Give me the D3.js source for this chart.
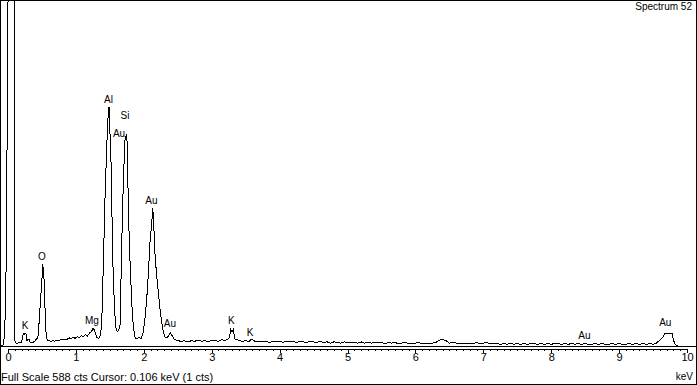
<!DOCTYPE html>
<html><head><meta charset="utf-8">
<script src="https://cdn.jsdelivr.net/npm/d3@7"></script>
<style>
html,body{margin:0;padding:0;background:#fff;}
svg{display:block;}
text{font-family:"Liberation Sans", Arial, sans-serif; fill:#000;}
</style></head><body>
<svg id="c" width="697" height="385"></svg>
<script>
// Spectrum data: energy (keV) and counts
const energy = [
-0.10,-0.085,-0.07,-0.055,-0.045,-0.035,-0.025,-0.015,-0.008,0.0,0.012,0.03,0.05,0.07,0.088,0.097,0.103,
0.12,0.14,0.16,0.18,0.20,0.215,0.23,0.25,0.265,0.28,0.295,0.31,0.325,0.34,0.36,0.38,0.40,0.42,0.44,
0.455,0.47,0.485,0.50,0.512,0.522,0.532,0.542,0.552,0.565,0.58,
0.60,0.63,0.66,0.69,0.72,0.75,0.78,0.81,0.84,0.87,0.90,0.93,0.96,0.99,1.02,1.05,1.08,1.11,1.14,1.17,1.20,1.23,1.25,1.27,1.29,1.31,1.34,1.36,
1.38,1.405,1.43,1.455,1.475,1.488,1.50,1.517,1.535,1.55,1.572,1.588,1.61,1.63,
1.65,1.675,1.70,1.725,1.74,1.75,1.762,1.773,1.797,1.822,1.847,1.872,1.90,1.93,1.96,
1.99,2.02,2.045,2.068,2.093,2.115,2.133,2.152,2.167,2.192,2.216,2.24,2.265,2.29,2.315,2.345,2.37,2.395,2.42,2.445,2.475,
2.50,2.55,2.60,2.65,2.70,2.75,2.80,2.85,2.90,2.95,3.00,3.05,3.10,3.15,3.20,3.24,3.26,3.28,3.30,3.32,3.34,3.37,3.40,3.45,3.50,3.55,3.58,3.61,
3.65,3.70,3.75,3.80,3.85,3.90,3.95,4.00,4.05,4.10,4.15,4.20,4.25,4.30,4.35,4.40,4.45,4.50,4.55,4.60,4.65,4.70,4.75,4.80,4.85,4.90,4.95,
5.00,5.05,5.10,5.15,5.20,5.25,5.30,5.35,5.40,5.45,5.50,5.55,5.60,5.65,5.70,5.75,5.80,5.85,5.90,5.95,
6.00,6.05,6.10,6.15,6.20,6.25,6.30,6.35,6.40,6.45,6.50,6.55,6.60,6.65,6.70,6.75,6.80,6.85,6.90,6.95,
7.00,7.05,7.10,7.15,7.20,7.25,7.30,7.35,7.40,7.45,7.50,7.55,7.60,7.65,7.70,7.75,7.80,7.85,7.90,7.95,
8.00,8.05,8.10,8.15,8.20,8.25,8.30,8.35,8.40,8.45,8.50,8.55,8.60,8.65,8.70,8.75,8.80,8.85,8.90,8.95,
9.00,9.05,9.10,9.15,9.20,9.25,9.30,9.35,9.40,9.45,9.50,9.55,9.60,9.64,9.67,9.70,9.72,9.75,9.78,9.80,9.83,9.86,10.0
];
const counts = [
1,1,2,15,40,80,160,320,480,580,800,1400,1800,1600,1200,700,8,
5,4,6,5,6,17,21,20,21,9,12,11,6,5,6,7,9,12,14,
35,62,88,114,139,128,112,76,38,16,10,
9,8,9,8,10,9,11,10,12,11,14,12,15,13,16,14,18,16,19,17,22,24,30,28,20,14,13,18,
36,143,257,342,392,406,367,313,200,116,58,31,24,27,
36,172,285,355,357,360,313,228,143,75,31,14,12,15,12,
22,49,83,124,180,206,234,192,151,117,90,61,39,22,15,14,19,22,17,12,10,
9,8,9,7,9,8,10,8,9,7,10,9,8,11,9,12,14,28,24,28,12,11,9,8,9,8,11,10,
7,8,7,8,6,8,7,8,6,8,7,8,6,8,7,6,8,7,6,8,6,7,5,7,6,5,7,
6,5,6,5,7,5,6,5,6,5,6,4,6,5,6,4,5,6,4,5,
5,6,4,5,4,5,6,10,11,9,5,6,5,4,5,4,5,4,6,4,
5,6,4,5,4,3,4,3,4,3,4,3,4,3,4,4,3,4,3,4,
3,4,4,3,4,3,4,3,4,3,4,3,3,4,3,4,3,3,4,3,
4,3,3,4,3,4,3,4,3,4,3,5,10,14,21,22,20,22,21,10,2,0,0
];

// Peak labels
const peakLabels = ["K","O","Mg","Al","Au","Si","Au","Au","K","K","Au","Au"];
const peakEnergy = [0.25,0.50,1.237,1.48,1.635,1.723,2.113,2.385,3.29,3.565,8.49,9.68];
const peakHeight = [29,146,37,413,355,386,241,32,37,17,12,34];

const majorTicks = [0,1,2,3,4,5,6,7,8,9,10];
const minorTicks = d3.range(0,101).map(d=>d/10);
const fullScale = 588;
const titleText = "Spectrum 52";
const unitText = "keV";
const statusText = "Full Scale 588 cts Cursor: 0.106 keV (1 cts)";

const svg = d3.select("#c");
const W = 697, H = 385;
const x = d3.scaleLinear().domain([0,10]).range([8,687]);
const y = d3.scaleLinear().domain([0,fullScale]).range([346,0]);

svg.append("rect").attr("x",0).attr("y",0).attr("width",W).attr("height",H).attr("fill","#fff");

svg.append("clipPath").attr("id","plotclip")
  .append("rect").attr("x",1).attr("y",1).attr("width",694).attr("height",346);

const line = d3.line().x(i=>x(energy[i])).y(i=>y(counts[i]));
svg.append("path")
  .attr("clip-path","url(#plotclip)")
  .attr("d", line(d3.range(energy.length)))
  .attr("fill","none").attr("stroke","#000").attr("stroke-width",1)
  .attr("shape-rendering","crispEdges");

// bottom line of plot area
svg.append("line").attr("x1",0).attr("x2",W).attr("y1",346.5).attr("y2",346.5)
  .attr("stroke","#000").attr("shape-rendering","crispEdges");

// minor ticks
const gMinor = svg.append("g").attr("transform","translate(0,349)")
  .call(d3.axisBottom(x).tickValues(minorTicks).tickSize(2).tickSizeOuter(0).tickFormat(""));
// major ticks
const gMajor = svg.append("g").attr("transform","translate(0,349)")
  .call(d3.axisBottom(x).tickValues(majorTicks).tickSize(4).tickSizeOuter(0).tickPadding(0).tickFormat(d3.format("d")));
[gMinor,gMajor].forEach(g=>{
  g.selectAll("path,line").attr("stroke","#000").attr("shape-rendering","crispEdges");
  g.selectAll("text").style("font-size","11px").attr("fill","#000").style("font-family","'Liberation Sans', Arial, sans-serif");
});

// peak labels
svg.append("g").selectAll("text").data(peakLabels).join("text")
  .attr("x",(d,i)=>x(peakEnergy[i]))
  .attr("y",(d,i)=>y(peakHeight[i]))
  .attr("text-anchor","middle")
  .style("font-size","10px")
  .text(d=>d);

svg.append("text").attr("x",692).attr("y",9.5).attr("text-anchor","end").style("font-size","10px").text(titleText);
svg.append("text").attr("x",693).attr("y",380).attr("text-anchor","end").style("font-size","10px").text(unitText);
svg.append("text").attr("x",1).attr("y",381).style("font-size","11px").text(statusText);

// outer frame
svg.append("rect").attr("x",0.5).attr("y",0.5).attr("width",W-1).attr("height",H-1)
  .attr("fill","none").attr("stroke","#000").attr("shape-rendering","crispEdges");
</script>
</body></html>
